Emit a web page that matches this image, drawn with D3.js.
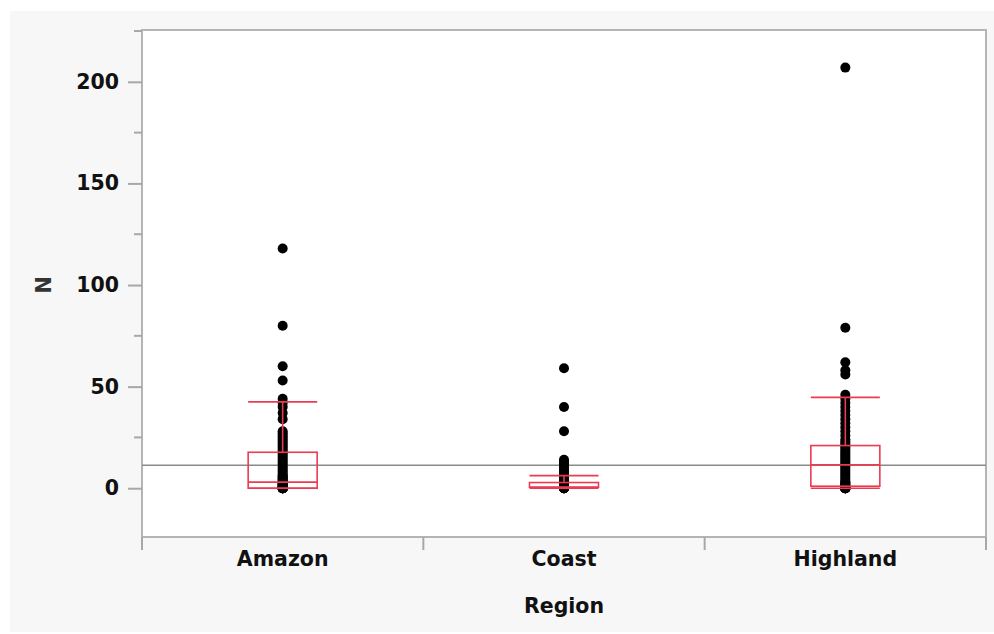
<!DOCTYPE html>
<html>
<head>
<meta charset="utf-8">
<script src="https://cdn.jsdelivr.net/npm/d3@7"></script>
<style>
  body { margin: 0; background: #fff; }
  svg { display: block; }
</style>
</head>
<body>
<div class="chart"></div>
<script>
// categories and per-region observations of N
const regions = ["Amazon", "Coast", "Highland"];
const amazonN = [0, 0, 0, 0, 0, 0, 0, 0, 0, 0, 1, 1, 1, 1, 2, 2, 2, 3, 3, 3, 4, 4, 5, 5, 6, 6, 7, 8, 9, 10, 11, 12, 13, 14, 15, 16, 17, 18, 19, 20, 21, 22, 23, 24, 25, 26, 27, 28, 34, 37, 40, 42, 44, 53, 60, 80, 118];
const coastN = [0, 0, 0, 0, 0, 0, 1, 1, 1, 2, 2, 3, 3, 4, 5, 6, 7, 8, 9, 10, 11, 12, 13, 14, 28, 40, 59];
const highlandN = [0, 0, 0, 0, 0, 0, 0, 0, 1, 1, 1, 2, 2, 3, 3, 4, 5, 6, 7, 8, 9, 10, 11, 12, 13, 14, 15, 16, 17, 18, 19, 20, 21, 22, 23, 24, 26, 28, 30, 32, 34, 36, 38, 40, 42, 44, 46, 56, 58, 62, 79, 207];

// box statistics
const q1 = [0, 0.5, 1];
const median = [3, 0.5, 11.5];
const q3 = [17.7, 2.8, 21];
const whiskerLo = [0, 0, 0];
const whiskerHi = [42.5, 6.2, 44.7];
const grandMean = 11.3;

const majorTicks = [0, 50, 100, 150, 200];
const minorTicks = [25, 75, 125, 175, 225];

const width = 994, height = 634;
const margin = { top: 30, right: 8, bottom: 97, left: 142 };
const font = "'DejaVu Sans', sans-serif";
const fontSize = "20.5px";

const svg = d3.select(".chart").append("svg")
  .attr("width", width)
  .attr("height", height)
  .style("font-family", font)
  .style("font-weight", "bold");

svg.append("rect")
  .attr("x", 10).attr("y", 11)
  .attr("width", width - 10).attr("height", height - 13)
  .attr("fill", "#f7f7f7");

const x = d3.scaleBand()
  .domain(regions)
  .range([margin.left, width - margin.right]);

const y = d3.scaleLinear()
  .domain([-24, 225.5])
  .range([height - margin.bottom, margin.top]);

svg.append("rect")
  .attr("x", margin.left).attr("y", margin.top)
  .attr("width", x.range()[1] - margin.left)
  .attr("height", y.range()[0] - margin.top)
  .attr("fill", "#fff")
  .attr("stroke", "#b4b4b4")
  .attr("stroke-width", 2);

// grand mean line
svg.append("line")
  .attr("x1", margin.left).attr("x2", x.range()[1])
  .attr("y1", y(grandMean)).attr("y2", y(grandMean))
  .attr("stroke", "#8a8a8a")
  .attr("stroke-width", 1.5);

const series = [amazonN, coastN, highlandN];
const boxW = 69;

// points
series.forEach((vals, i) => {
  const cx = x(regions[i]) + x.bandwidth() / 2;
  svg.append("g")
    .selectAll("circle")
    .data(vals)
    .join("circle")
    .attr("cx", cx)
    .attr("cy", d => y(d))
    .attr("r", 5)
    .attr("fill", "#000");
});

// boxes
const red = "#ec3a50";
regions.forEach((r, i) => {
  const cx = x(r) + x.bandwidth() / 2;
  const g = svg.append("g")
    .attr("fill", "none")
    .attr("stroke", red)
    .attr("stroke-width", 1.6);
  g.append("rect")
    .attr("x", cx - boxW / 2).attr("y", y(q3[i]))
    .attr("width", boxW).attr("height", y(q1[i]) - y(q3[i]));
  g.append("line")
    .attr("x1", cx - boxW / 2).attr("x2", cx + boxW / 2)
    .attr("y1", y(median[i])).attr("y2", y(median[i]));
  g.append("line")
    .attr("x1", cx).attr("x2", cx)
    .attr("y1", y(q3[i])).attr("y2", y(whiskerHi[i]));
  g.append("line")
    .attr("x1", cx - boxW / 2).attr("x2", cx + boxW / 2)
    .attr("y1", y(whiskerHi[i])).attr("y2", y(whiskerHi[i]));
  g.append("line")
    .attr("x1", cx - boxW / 2).attr("x2", cx + boxW / 2)
    .attr("y1", y(whiskerLo[i])).attr("y2", y(whiskerLo[i]));
});

// y axis
const yAxis = svg.append("g")
  .attr("transform", `translate(${margin.left},0)`)
  .call(d3.axisLeft(y).tickValues(majorTicks).tickSize(14).tickPadding(9))
  .call(g => g.select(".domain").remove());
yAxis.selectAll(".tick line").attr("stroke", "#a8a8a8").attr("stroke-width", 2);
yAxis.selectAll(".tick text")
  .attr("fill", "#111")
  .style("font-size", fontSize)
  .style("font-weight", "bold")
  .style("font-family", font);

svg.append("g")
  .selectAll("line")
  .data(minorTicks)
  .join("line")
  .attr("x1", margin.left - 8).attr("x2", margin.left)
  .attr("y1", d => y(d)).attr("y2", d => y(d))
  .attr("stroke", "#a8a8a8")
  .attr("stroke-width", 2);

// x axis
const xAxis = svg.append("g")
  .attr("transform", `translate(0,${y.range()[0]})`)
  .call(d3.axisBottom(x).tickSize(0).tickPadding(14))
  .call(g => g.select(".domain").remove());
xAxis.selectAll(".tick text")
  .attr("fill", "#111")
  .style("font-size", fontSize)
  .style("font-weight", "bold")
  .style("font-family", font);

svg.append("g")
  .selectAll("line")
  .data(regions.map(r => x(r)).concat([x.range()[1]]))
  .join("line")
  .attr("x1", d => d).attr("x2", d => d)
  .attr("y1", y.range()[0]).attr("y2", y.range()[0] + 13)
  .attr("stroke", "#a8a8a8")
  .attr("stroke-width", 2);

// axis titles
svg.append("text")
  .attr("x", (margin.left + x.range()[1]) / 2)
  .attr("y", 613)
  .attr("text-anchor", "middle")
  .attr("fill", "#111")
  .style("font-size", fontSize)
  .text("Region");

svg.append("text")
  .attr("transform", `translate(51,${y(100)}) rotate(-90)`)
  .attr("text-anchor", "middle")
  .attr("fill", "#333")
  .style("font-size", "21px")
  .text("N");
</script>
</body>
</html>
